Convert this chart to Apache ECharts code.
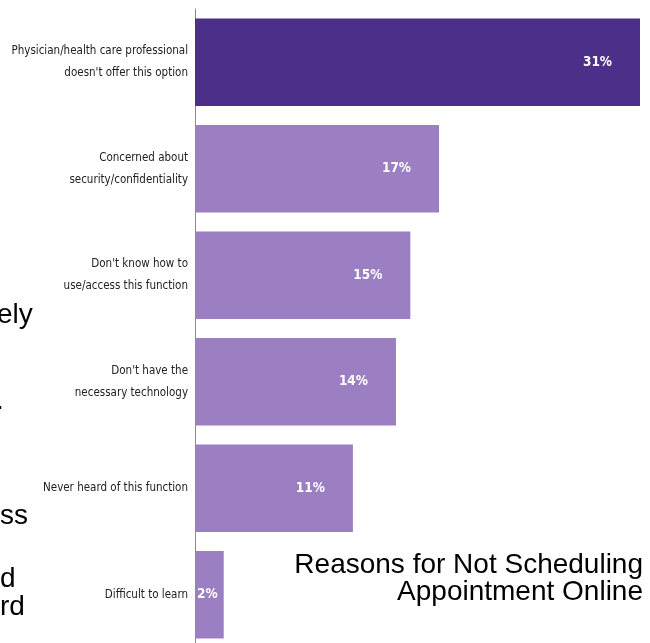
<!DOCTYPE html>
<html>
<head>
<meta charset="utf-8">
<script src="https://cdn.jsdelivr.net/npm/echarts@6/dist/echarts.min.js"></script>
<style>
  html, body { margin: 0; padding: 0; background: #fff; }
  #chart { width: 650px; height: 643px; }
</style>
</head>
<body>
<div id="chart"></div>
<script>
// data
const categories = [
  "Physician/health care professional\ndoesn't offer this option",
  "Concerned about\nsecurity/confidentiality",
  "Don't know how to\nuse/access this function",
  "Don't have the\nnecessary technology",
  "Never heard of this function",
  "Difficult to learn"
];
const percents = [31, 17, 15, 14, 11, 2];
const titleLines = ["Reasons for Not Scheduling", "Appointment Online"];
// clipped slide text on the left edge
const fragments = ["ely", ".", "ss", "d", "rd"];

const DARK = "#4b2f88";
const LIGHT = "#9b7fc2";
const narrow = "'Liberation Sans Narrow', 'DejaVu Sans Condensed', sans-serif";
const sans = "'Liberation Sans', Arial, sans-serif";

const chart = echarts.init(document.getElementById("chart"), null, { renderer: "canvas" });

const barData = percents.map((v, i) => ({
  value: v,
  itemStyle: { color: i === 0 ? DARK : LIGHT },
  label: v < 5 ? { position: "insideLeft", distance: 2 } : { position: "insideRight", distance: 28 }
}));

// fragment placement (left, vertical middle)
const fragPos = [[-3, 315], [-4, 401], [0, 516], [0, 579], [0, 607]];

const graphics = [];
titleLines.forEach((t, i) => {
  graphics.push({
    type: "text", right: 7, top: i === 0 ? 551 : 578,
    style: { text: t, font: "28px " + sans, fill: "#000" }
  });
});
fragments.forEach((t, i) => {
  graphics.push({
    type: "text", left: fragPos[i][0], top: fragPos[i][1] - 14,
    style: { text: t, font: "28px " + sans, fill: "#000" }
  });
});

chart.setOption({
  animation: false,
  backgroundColor: "#fff",
  grid: { left: 195, right: 10, top: 9, bottom: -5, containLabel: false, outerBoundsMode: "none" },
  xAxis: { type: "value", min: 0, max: 31, show: false },
  yAxis: {
    type: "category",
    data: categories,
    inverse: true,
    axisLine: { show: true, lineStyle: { color: "#8a8a8a", width: 1 } },
    axisTick: { show: false },
    axisLabel: {
      color: "#222", fontFamily: narrow, fontSize: 11.5, lineHeight: 22,
      margin: 7, align: "right"
    }
  },
  series: [{
    type: "bar",
    data: barData,
    barCategoryGap: "18%",
    label: {
      show: true, formatter: "{c}%", color: "#fff",
      fontFamily: narrow, fontWeight: "bold", fontSize: 13.5
    }
  }],
  graphic: graphics
});
</script>
</body>
</html>
